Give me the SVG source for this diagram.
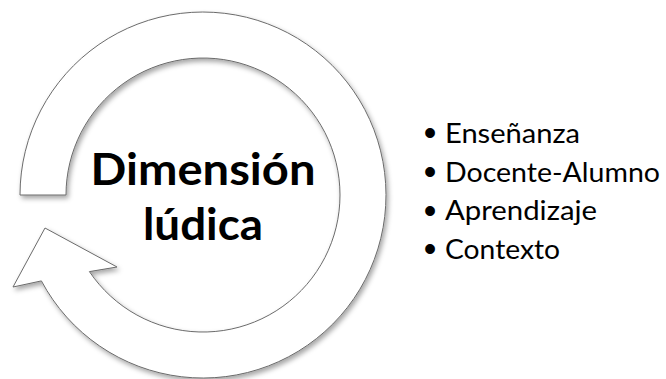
<svg xmlns="http://www.w3.org/2000/svg" width="666" height="379" viewBox="0 0 666 379">
<defs>
<filter id="sh" x="-10%" y="-10%" width="125%" height="125%">
<feDropShadow dx="2" dy="3" stdDeviation="2.5" flood-color="#000" flood-opacity="0.35"/>
</filter>
<style>
.arrow{fill:#fff;stroke:#6b6b6b;stroke-width:1}
.title{font-family:Lato,"Open Sans","Liberation Sans",sans-serif;font-weight:bold;font-size:43px;fill:#000}
.item{font-family:Lato,"Open Sans","Liberation Sans",sans-serif;font-size:26px;fill:#000}
.bul{font-family:"Liberation Sans",sans-serif;font-size:36px;fill:#000}
</style>
</defs>
<rect width="666" height="379" fill="#fff"/>
<g id="cycle">
<path class="arrow" filter="url(#sh)" d="M20,195 A183,183 0 1 1 41.4,280.9 L13,287 L45,228 L117,267 L89.4,271.6 A137,137 0 1 0 66,195 Z"/>
</g>
<g id="title">
<text class="title" x="203" y="185" text-anchor="middle" textLength="225" lengthAdjust="spacingAndGlyphs">Dimensión</text>
<text class="title" x="203" y="240" text-anchor="middle" textLength="120" lengthAdjust="spacingAndGlyphs">lúdica</text>
</g>
<g id="list">
<text class="bul" x="430" y="145" text-anchor="middle">•</text>
<text class="item" x="445" y="142.5" textLength="135" lengthAdjust="spacingAndGlyphs">Enseñanza</text>
<text class="bul" x="430" y="184" text-anchor="middle">•</text>
<text class="item" x="445" y="181.5" textLength="215" lengthAdjust="spacingAndGlyphs">Docente-Alumno</text>
<text class="bul" x="430" y="222.5" text-anchor="middle">•</text>
<text class="item" x="445" y="220" textLength="152" lengthAdjust="spacingAndGlyphs">Aprendizaje</text>
<text class="bul" x="430" y="261" text-anchor="middle">•</text>
<text class="item" x="445" y="258.5" textLength="115" lengthAdjust="spacingAndGlyphs">Contexto</text>
</g>
</svg>
